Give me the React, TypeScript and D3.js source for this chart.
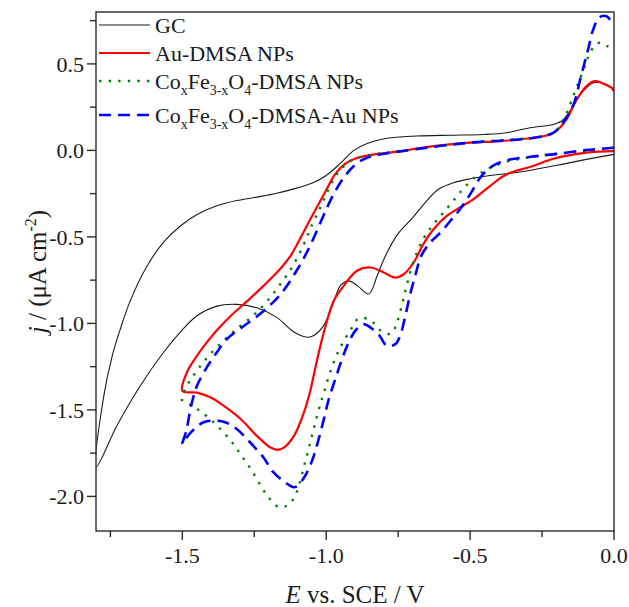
import React from 'react';
import * as d3 from 'd3';

type Pt = [number, number];

// axis ticks (V, µA cm-2)
const xMajor = [-1.5, -1.0, -0.5, 0.0];
const xMinor = [-1.75, -1.25, -0.75, -0.25];
const yMajor = [-2.0, -1.5, -1.0, -0.5, 0.0, 0.5];
const yMinor = [-1.75, -1.25, -0.75, -0.25, 0.25, 0.75];

// GC electrode: cathodic sweep 0 -> -1.8 V, then return
const gcCathodic: Pt[] = [
  [0, -0.023], [-0.096, -0.052], [-0.211, -0.09], [-0.327, -0.125], [-0.442, -0.148],
  [-0.5, -0.164], [-0.558, -0.187], [-0.61, -0.225], [-0.65, -0.29], [-0.7, -0.39],
  [-0.754, -0.49], [-0.8, -0.63], [-0.823, -0.725], [-0.852, -0.83], [-0.893, -0.78],
  [-0.922, -0.754], [-0.95, -0.78], [-0.979, -0.9], [-1.008, -1.01], [-1.043, -1.07],
  [-1.066, -1.08], [-1.112, -1.05], [-1.172, -0.965], [-1.241, -0.91], [-1.311, -0.89],
  [-1.38, -0.9], [-1.449, -0.956], [-1.507, -1.05], [-1.565, -1.167], [-1.646, -1.36],
  [-1.727, -1.59], [-1.8, -1.83],
];
const gcAnodic: Pt[] = [
  [-1.8, -1.83], [-1.773, -1.42], [-1.744, -1.19], [-1.715, -1.03], [-1.681, -0.87],
  [-1.623, -0.67], [-1.565, -0.53], [-1.507, -0.437], [-1.449, -0.37], [-1.38, -0.32],
  [-1.311, -0.29], [-1.241, -0.27], [-1.172, -0.248], [-1.103, -0.218], [-1.05, -0.19],
  [-1.0, -0.145], [-0.951, -0.075], [-0.904, 0.0], [-0.858, 0.04], [-0.789, 0.07],
  [-0.685, 0.083], [-0.569, 0.088], [-0.454, 0.092], [-0.373, 0.102], [-0.292, 0.131],
  [-0.211, 0.15], [-0.177, 0.176], [-0.142, 0.256], [-0.107, 0.342], [-0.073, 0.39],
  [-0.05, 0.394], [-0.015, 0.371], [0, 0.357],
];

// Au-DMSA NPs
const auCathodic: Pt[] = [
  [0, -0.004], [-0.096, -0.013], [-0.211, -0.048], [-0.281, -0.09], [-0.373, -0.138],
  [-0.431, -0.206], [-0.489, -0.283], [-0.535, -0.33], [-0.581, -0.379], [-0.627, -0.456],
  [-0.662, -0.54], [-0.696, -0.648], [-0.731, -0.716], [-0.76, -0.735], [-0.8, -0.706],
  [-0.846, -0.677], [-0.893, -0.696], [-0.939, -0.783], [-0.974, -0.87], [-1.008, -1.05],
  [-1.031, -1.206], [-1.06, -1.42], [-1.085, -1.55], [-1.112, -1.65], [-1.147, -1.718],
  [-1.17, -1.731], [-1.195, -1.716], [-1.241, -1.65], [-1.299, -1.55], [-1.357, -1.475],
  [-1.403, -1.427], [-1.449, -1.4], [-1.5, -1.39],
];
const auAnodic: Pt[] = [
  [-1.5, -1.39], [-1.484, -1.283], [-1.449, -1.187], [-1.415, -1.11], [-1.38, -1.04],
  [-1.334, -0.96], [-1.276, -0.873], [-1.218, -0.783], [-1.161, -0.687], [-1.124, -0.61],
  [-1.078, -0.47], [-1.043, -0.36], [-1.005, -0.245], [-0.97, -0.14], [-0.935, -0.078],
  [-0.9, -0.048], [-0.858, -0.03], [-0.743, -0.004], [-0.627, 0.025], [-0.511, 0.044],
  [-0.396, 0.054], [-0.281, 0.073], [-0.223, 0.092], [-0.194, 0.121], [-0.165, 0.179],
  [-0.13, 0.294], [-0.096, 0.371], [-0.067, 0.4], [-0.038, 0.387], [-0.009, 0.362],
  [0, 0.34],
];

// CoxFe3-xO4-DMSA NPs
const coCathodic: Pt[] = [
  [0, 0.015], [-0.142, -0.01], [-0.269, -0.033], [-0.385, -0.071], [-0.442, -0.11],
  [-0.477, -0.148], [-0.523, -0.22], [-0.558, -0.29], [-0.593, -0.36], [-0.627, -0.427],
  [-0.662, -0.51], [-0.696, -0.64], [-0.719, -0.773], [-0.735, -0.88], [-0.754, -0.994],
  [-0.775, -1.06], [-0.812, -1.04], [-0.847, -0.98], [-0.887, -0.971], [-0.916, -1.04],
  [-0.945, -1.12], [-0.968, -1.2], [-0.99, -1.3], [-1.008, -1.4], [-1.022, -1.475],
  [-1.034, -1.55], [-1.045, -1.62], [-1.056, -1.69], [-1.067, -1.764], [-1.078, -1.831],
  [-1.09, -1.91], [-1.105, -1.985], [-1.128, -2.045], [-1.164, -2.062], [-1.203, -2.0],
  [-1.23, -1.93], [-1.259, -1.85], [-1.288, -1.78], [-1.317, -1.71], [-1.351, -1.64],
  [-1.392, -1.571], [-1.432, -1.514], [-1.467, -1.475], [-1.5, -1.447],
];
const coAnodic: Pt[] = [
  [-1.5, -1.447], [-1.49, -1.38], [-1.461, -1.3], [-1.432, -1.235], [-1.397, -1.167],
  [-1.357, -1.1], [-1.317, -1.04], [-1.265, -0.97], [-1.23, -0.917], [-1.19, -0.84],
  [-1.155, -0.763], [-1.124, -0.69], [-1.083, -0.561], [-1.049, -0.43], [-1.015, -0.31],
  [-0.985, -0.2], [-0.955, -0.12], [-0.91, -0.055], [-0.858, -0.03], [-0.743, -0.004],
  [-0.511, 0.044], [-0.281, 0.073], [-0.223, 0.092], [-0.19, 0.135], [-0.165, 0.215],
  [-0.138, 0.33], [-0.112, 0.44], [-0.09, 0.54], [-0.067, 0.605], [-0.046, 0.623],
  [-0.026, 0.605], [-0.003, 0.583], [0, 0.58],
];

// CoxFe3-xO4-DMSA-Au NPs
const coAuCathodic: Pt[] = [
  [0, 0.015], [-0.096, 0.002], [-0.211, -0.023], [-0.269, -0.033], [-0.385, -0.062],
  [-0.431, -0.1], [-0.465, -0.158], [-0.5, -0.254], [-0.535, -0.34], [-0.565, -0.4],
  [-0.6, -0.47], [-0.64, -0.535], [-0.67, -0.61], [-0.69, -0.72], [-0.708, -0.83],
  [-0.725, -0.956], [-0.743, -1.07], [-0.76, -1.12], [-0.789, -1.13], [-0.815, -1.07],
  [-0.847, -1.023], [-0.87, -1.004], [-0.898, -1.04], [-0.922, -1.11], [-0.945, -1.206],
  [-0.968, -1.32], [-0.991, -1.437], [-1.008, -1.552], [-1.026, -1.668], [-1.043, -1.764],
  [-1.062, -1.845], [-1.085, -1.91], [-1.11, -1.947], [-1.149, -1.91], [-1.184, -1.86],
  [-1.218, -1.775], [-1.265, -1.687], [-1.311, -1.61], [-1.351, -1.571], [-1.392, -1.562],
  [-1.426, -1.571], [-1.455, -1.605], [-1.478, -1.645], [-1.5, -1.697],
];
const coAuAnodic: Pt[] = [
  [-1.5, -1.697], [-1.486, -1.62], [-1.474, -1.514], [-1.462, -1.427], [-1.449, -1.36],
  [-1.415, -1.254], [-1.38, -1.167], [-1.345, -1.09], [-1.299, -1.03], [-1.224, -0.937],
  [-1.158, -0.831], [-1.1, -0.687], [-1.06, -0.565], [-1.026, -0.44], [-0.997, -0.33],
  [-0.97, -0.24], [-0.94, -0.16], [-0.904, -0.09], [-0.858, -0.042], [-0.743, -0.006],
  [-0.511, 0.043], [-0.281, 0.072], [-0.211, 0.102], [-0.177, 0.16], [-0.142, 0.26],
  [-0.113, 0.44], [-0.09, 0.583], [-0.073, 0.695], [-0.05, 0.77], [-0.026, 0.775],
  [-0.003, 0.727], [0, 0.72],
];

const seriesNames = ['GC', 'Au-DMSA NPs', 'CoFeO-DMSA NPs', 'CoFeO-DMSA-Au NPs'];

const W = 629;
const H = 607;
const margin = { top: 12, right: 15, bottom: 76, left: 96 };
const font = "'Liberation Serif', 'Times New Roman', serif";
const axisColor = '#2a2a2a';

const styles = [
  { stroke: '#1a1a1a', width: 1.1, dash: undefined },
  { stroke: '#ff0000', width: 2.2, dash: undefined },
  { stroke: '#007f00', width: 2.4, dash: '2.4 7.2' },
  { stroke: '#0000ff', width: 2.6, dash: '12 7' },
];

function CoFeLabel({ tail }: { tail: string }) {
  // Co_x Fe_3-x O_4 with subscripts
  return (
    <>
      <tspan>Co</tspan>
      <tspan dy={6} fontSize={14}>x</tspan>
      <tspan dy={-6}>Fe</tspan>
      <tspan dy={6} fontSize={14}>3-x</tspan>
      <tspan dy={-6}>O</tspan>
      <tspan dy={6} fontSize={14}>4</tspan>
      <tspan dy={-6}>{tail}</tspan>
    </>
  );
}

export default function App() {
  const iw = W - margin.left - margin.right;
  const ih = H - margin.top - margin.bottom;

  const x = d3.scaleLinear().domain([-1.8, 0]).range([0, iw]);
  const y = d3.scaleLinear().domain([-2.2, 0.8]).range([ih, 0]);

  const line = d3
    .line<Pt>()
    .x(d => x(d[0]))
    .y(d => y(d[1]))
    .curve(d3.curveCatmullRom.alpha(0.5));

  const loops: Pt[][] = [
    gcCathodic.concat(gcAnodic.slice(1)),
    auCathodic.concat(auAnodic.slice(1)),
    coCathodic.concat(coAnodic.slice(1)),
    coAuCathodic.concat(coAuAnodic.slice(1)),
  ];

  const legendRows = [25, 53, 81, 115];

  return (
    <svg
      width={W}
      height={H}
      style={{ position: 'absolute', left: 0, top: 0, background: '#fff' }}
      fontFamily={font}
    >
      <defs>
        <clipPath id="plotArea">
          <rect x={0} y={0} width={iw} height={ih} />
        </clipPath>
      </defs>
      <g transform={`translate(${margin.left},${margin.top})`}>
        {/* curves */}
        <g clipPath="url(#plotArea)">
          {loops.map((pts, i) => (
            <path
              key={i}
              d={line(pts) || ''}
              fill="none"
              stroke={styles[i].stroke}
              strokeWidth={styles[i].width}
              strokeDasharray={styles[i].dash}
            />
          ))}
        </g>

        {/* frame */}
        <rect x={0} y={0} width={iw} height={ih} fill="none" stroke={axisColor} strokeWidth={1.4} />

        {/* x ticks */}
        {xMajor.map(t => (
          <g key={'xm' + t} transform={`translate(${x(t)},${ih})`}>
            <line y1={0} y2={9} stroke={axisColor} strokeWidth={1.4} />
            <text y={32} textAnchor="middle" fontSize={22} fill="#1a1a1a">
              {t.toFixed(1)}
            </text>
          </g>
        ))}
        {xMinor.map(t => (
          <line key={'xn' + t} x1={x(t)} x2={x(t)} y1={ih} y2={ih + 6} stroke={axisColor} strokeWidth={1.4} />
        ))}

        {/* y ticks */}
        {yMajor.map(t => (
          <g key={'ym' + t} transform={`translate(0,${y(t)})`}>
            <line x1={0} x2={-9} stroke={axisColor} strokeWidth={1.4} />
            <text x={-12} dy="0.35em" textAnchor="end" fontSize={22} fill="#1a1a1a">
              {t.toFixed(1)}
            </text>
          </g>
        ))}
        {yMinor.map(t => (
          <line key={'yn' + t} x1={0} x2={-6} y1={y(t)} y2={y(t)} stroke={axisColor} strokeWidth={1.4} />
        ))}

        {/* legend */}
        {seriesNames.map((name, i) => (
          <g key={name} transform={`translate(0,${legendRows[i] - margin.top})`}>
            <line
              x1={3}
              x2={54}
              stroke={styles[i].stroke}
              strokeWidth={styles[i].width}
              strokeDasharray={styles[i].dash}
            />
            <text x={59} y={8} fontSize={22} fill="#1a1a1a">
              {i < 2 ? name : <CoFeLabel tail={i === 2 ? '-DMSA NPs' : '-DMSA-Au NPs'} />}
            </text>
          </g>
        ))}
      </g>

      {/* axis titles */}
      <text x={margin.left + iw / 2} y={603} textAnchor="middle" fontSize={25} fill="#1a1a1a">
        <tspan fontStyle="italic">E</tspan> vs. SCE / V
      </text>
      <text
        transform={`translate(46,${margin.top + ih / 2}) rotate(-90)`}
        textAnchor="middle"
        fontSize={25}
        fill="#1a1a1a"
      >
        <tspan fontStyle="italic">j</tspan> / (μA cm
        <tspan dy={-10} fontSize={16}>-2</tspan>
        <tspan dy={10}>)</tspan>
      </text>
    </svg>
  );
}
